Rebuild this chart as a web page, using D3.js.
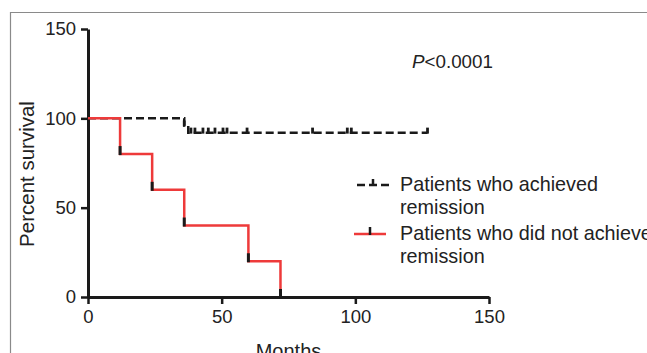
<!DOCTYPE html>
<html>
<head>
<meta charset="utf-8">
<script src="https://cdn.jsdelivr.net/npm/d3@7"></script>
<style>
  body { margin: 0; background: #fff; }
  svg { display: block; font-family: "Liberation Sans", Arial, sans-serif; }
</style>
</head>
<body>
<svg id="chart" width="647" height="353"></svg>
<script>
// Kaplan-Meier step data (months, percent survival)
var remissionTimes = [0, 36, 37.5, 127];
var remissionSurv = [100, 96, 92, 92];
var remissionCensor = [36, 38.5, 40, 43, 45, 47.5, 50.5, 52, 59.5, 84, 97, 98.5, 127];

var noRemissionTimes = [0, 12, 24, 36, 60, 72];
var noRemissionSurv = [100, 80, 60, 40, 20, 0];
var noRemissionTicks = [12, 24, 36, 60, 72];

var xTicks = [0, 50, 100, 150];
var yTicks = [0, 50, 100, 150];
var legendLabels = [["Patients who achieved", "remission"], ["Patients who did not achieve", "remission"]];
var pLabel = "<0.0001";

var svg = d3.select("#chart");
var W = +svg.attr("width"), H = +svg.attr("height");

// frame
svg.append("path")
  .attr("d", "M10.5," + H + "V12.5H" + W)
  .attr("fill", "none")
  .attr("stroke", "#8a8a8a")
  .attr("stroke-width", 1.2);

var x = d3.scaleLinear().domain([0, 150]).range([88, 489]);
var y = d3.scaleLinear().domain([0, 150]).range([297, 29]);

// step helpers
function stepPoints(times, surv) {
  return times.map(function (t, i) { return [t, surv[i]]; });
}
function survAt(times, surv, t) {
  var v = surv[0];
  for (var i = 0; i < times.length; i++) if (times[i] <= t) v = surv[i];
  return v;
}

var line = d3.line()
  .curve(d3.curveStepAfter)
  .x(function (d) { return x(d[0]); })
  .y(function (d) { return y(d[1]); });

// axes
var g = svg.append("g");
var yAxis = g.append("g")
  .attr("transform", "translate(" + x(0) + ",0)")
  .call(d3.axisLeft(y).tickValues(yTicks).tickSize(7).tickPadding(5).tickSizeOuter(0));
var xAxis = g.append("g")
  .attr("transform", "translate(0," + y(0) + ")")
  .call(d3.axisBottom(x).tickValues(xTicks).tickSize(7).tickPadding(6).tickSizeOuter(0));

[yAxis, xAxis].forEach(function (a) {
  a.select(".domain").attr("stroke", "#1a1a1a").attr("stroke-width", 3);
  a.selectAll(".tick line").attr("stroke", "#1a1a1a").attr("stroke-width", 2.5);
  a.selectAll(".tick text").attr("fill", "#222").style("font-size", "18.5px")
    .style("font-family", "'Liberation Sans', Arial, sans-serif");
});

// axis titles
svg.append("text")
  .attr("transform", "translate(34,174) rotate(-90)")
  .attr("text-anchor", "middle")
  .attr("fill", "#222")
  .style("font-size", "20.5px")
  .text("Percent survival");

svg.append("text")
  .attr("x", (x(0) + x(150)) / 2)
  .attr("y", 358)
  .attr("text-anchor", "middle")
  .attr("fill", "#222")
  .style("font-size", "20px")
  .text("Months");

// remission (black dashed)
svg.append("path")
  .datum(stepPoints(remissionTimes, remissionSurv))
  .attr("d", line)
  .attr("fill", "none")
  .attr("stroke", "#1a1a1a")
  .attr("stroke-width", 2.5)
  .attr("stroke-dasharray", "8,4");

svg.selectAll(".ctick")
  .data(remissionCensor)
  .enter().append("line")
  .attr("class", "ctick")
  .attr("x1", function (d) { return x(d); })
  .attr("x2", function (d) { return x(d); })
  .attr("y1", function (d) { return y(survAt(remissionTimes, remissionSurv, d)) + 1; })
  .attr("y2", function (d) { return y(survAt(remissionTimes, remissionSurv, d)) - 5; })
  .attr("stroke", "#1a1a1a")
  .attr("stroke-width", 2.8);

// no remission (red)
svg.append("path")
  .datum(stepPoints(noRemissionTimes, noRemissionSurv))
  .attr("d", line)
  .attr("fill", "none")
  .attr("stroke", "#ee3a3a")
  .attr("stroke-width", 2.5);

svg.selectAll(".rtick")
  .data(noRemissionTicks)
  .enter().append("line")
  .attr("class", "rtick")
  .attr("x1", function (d) { return x(d); })
  .attr("x2", function (d) { return x(d); })
  .attr("y1", function (d) { return y(survAt(noRemissionTimes, noRemissionSurv, d)) + 1; })
  .attr("y2", function (d) { return y(survAt(noRemissionTimes, noRemissionSurv, d)) - 8; })
  .attr("stroke", "#1a1a1a")
  .attr("stroke-width", 3);

// P value
var pt = svg.append("text")
  .attr("x", 412)
  .attr("y", 68)
  .attr("fill", "#222")
  .style("font-size", "18.8px");
pt.append("tspan").style("font-style", "italic").text("P");
pt.append("tspan").text(pLabel);

// legend
var leg = svg.append("g");
var legY = [185, 234];
leg.append("line")
  .attr("x1", 357).attr("x2", 389).attr("y1", legY[0]).attr("y2", legY[0])
  .attr("stroke", "#1a1a1a").attr("stroke-width", 2.5).attr("stroke-dasharray", "8,4");
leg.append("line")
  .attr("x1", 373).attr("x2", 373).attr("y1", legY[0] + 1).attr("y2", legY[0] - 6)
  .attr("stroke", "#1a1a1a").attr("stroke-width", 2.5);
leg.append("line")
  .attr("x1", 354).attr("x2", 386).attr("y1", legY[1]).attr("y2", legY[1])
  .attr("stroke", "#ee3a3a").attr("stroke-width", 2.5);
leg.append("line")
  .attr("x1", 370).attr("x2", 370).attr("y1", legY[1] + 1).attr("y2", legY[1] - 7)
  .attr("stroke", "#1a1a1a").attr("stroke-width", 2.5);

legendLabels.forEach(function (lines, i) {
  var t = leg.append("text")
    .attr("x", 400)
    .attr("y", legY[i] + 6)
    .attr("fill", "#222")
    .style("font-size", "19.8px");
  lines.forEach(function (s, j) {
    t.append("tspan").attr("x", 400).attr("dy", j === 0 ? 0 : 23).text(s);
  });
});
</script>
</body>
</html>
